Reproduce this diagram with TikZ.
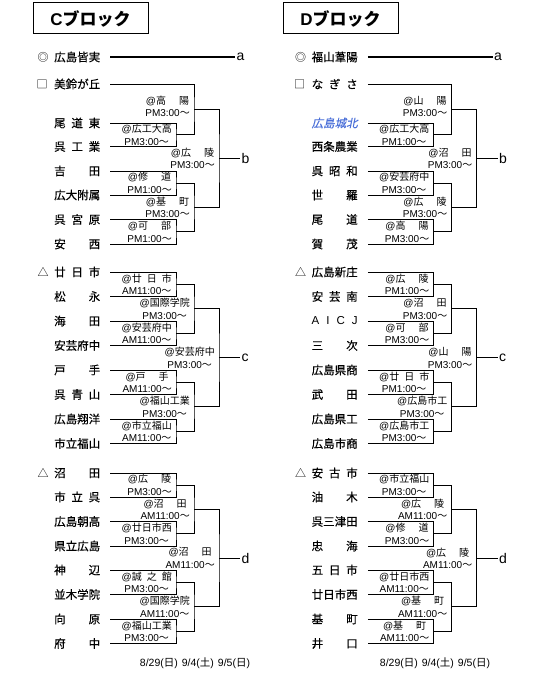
\documentclass[tikz,border=0pt]{standalone}
\usepackage{fontspec}
\setmainfont{Noto Sans CJK JP}
\newfontfamily\lat{Liberation Sans}
\newfontfamily\jpteam[FakeBold=0.4]{Noto Sans CJK JP}
\newfontfamily\jpsl[FakeSlant=0.2,FakeBold=0.3]{Noto Sans CJK JP}
\usepackage{tikz}
\definecolor{cityblue}{HTML}{4A6FD8}
\newcommand\tname[1]{\makebox[46pt][s]{#1}}
\newcommand\vname[2][40pt]{{\lat @}\makebox[#1][s]{#2}}
\newcommand\kickoff[1]{{\lat #1}〜}
\newcommand\dday[2]{{\lat #1(}#2{\lat )}}
\tikzset{
  team/.style={anchor=west,inner sep=0pt,font=\jpteam\fontsize{11.5}{12}\selectfont},
  seedmark/.style={inner sep=0pt,font=\fontsize{11}{12}\selectfont},
  venue/.style={anchor=east,align=center,inner sep=0pt,font=\fontsize{10}{12.5}\selectfont},
  br/.style={line width=0.9pt},
  seedline/.style={line width=2.6pt},
  lbl/.style={anchor=west,inner xsep=1.5pt,inner ysep=0pt,font=\lat\fontsize{14}{14}\selectfont},
  head/.style={draw,line width=1pt,minimum width=115pt,minimum height=31pt,inner sep=0pt,font=\bfseries\fontsize{17}{17}\selectfont},
  dates/.style={inner sep=0pt,font=\fontsize{10.5}{11}\selectfont}
}

\begin{document}
\begin{tikzpicture}[x=1pt,y=-1pt]
\useasboundingbox (0,0) rectangle (540,677);
% headers and dates
\node[head] (Chead) at (90.5,18.5) {{\lat C}ブロック};
\node[head] (Dhead) at (340.5,18.5) {{\lat D}ブロック};
\node[dates] (Cdate) at (195,663) {\dday{8/29}{日}\hspace{4pt}\dday{9/4}{土}\hspace{4pt}\dday{9/5}{日}};
\node[dates] (Ddate) at (435,663) {\dday{8/29}{日}\hspace{4pt}\dday{9/4}{土}\hspace{4pt}\dday{9/5}{日}};

% ---------- C block ----------
\node[seedmark] (Cma) at (43,57) {◎};
\node[team] (Ca) at (54,57) {\tname{広島皆実}};
\node[lbl] (Cla) at (235,57) {a};
\draw[seedline] ([xshift=10pt]Ca.east) -- (Cla.west);
% b
\node[seedmark] (Cms) at (42,84) {□};
\node[team] (Cs) at (54,84) {\tname{美鈴が丘}};
\node[team] (Cb1) at (54,123) {\tname{尾\hfill 道\hfill 東}};
\node[team] (Cb2) at (54,146.5) {\tname{呉\hfill 工\hfill 業}};
\node[team] (Cb3) at (54,171) {\tname{吉\hfill 田}};
\node[team] (Cb4) at (54,195) {\tname{広大附属}};
\node[team] (Cb5) at (54,219.5) {\tname{呉\hfill 宮\hfill 原}};
\node[team] (Cb6) at (54,244) {\tname{安\hfill 西}};
\coordinate (Cb12) at (176,134.75);
\coordinate (Cb34) at (176,183);
\coordinate (Cb56) at (176,231.75);
\coordinate (CbS) at (194,109.4);
\coordinate (Cb36) at (194,207.4);
\coordinate (Cbf) at (219,158.4);
\node[lbl] (Clb) at (240,158.4) {b};
\draw[br] ([xshift=10pt]Cb1.east) -| (Cb12) |- ([xshift=10pt]Cb2.east);
\draw[br] ([xshift=10pt]Cb3.east) -| (Cb34) |- ([xshift=10pt]Cb4.east);
\draw[br] ([xshift=10pt]Cb5.east) -| (Cb56) |- ([xshift=10pt]Cb6.east);
\draw[br] ([xshift=10pt]Cs.east) -| (CbS) |- (Cb12);
\draw[br] (Cb34) -| (Cb36) |- (Cb56);
\draw[br] (CbS) -| (Cbf) |- (Cb36);
\draw[br] (Cbf) -- (Clb.west);
\node[venue] (Cvb12) at ([xshift=-4pt]Cb12) {\vname{広工大高}\\\kickoff{PM3:00}};
\node[venue] (Cvb34) at ([xshift=-4pt]Cb34) {\vname[33pt]{修\hfill 道}\\\kickoff{PM1:00}};
\node[venue] (Cvb56) at ([xshift=-4pt]Cb56) {\vname[33pt]{可\hfill 部}\\\kickoff{PM1:00}};
\node[venue] (CvbS) at ([xshift=-4pt,yshift=3pt]CbS) {\vname[33pt]{高\hfill 陽}\\\kickoff{PM3:00}};
\node[venue] (Cvb36) at ([xshift=-4pt]Cb36) {\vname[33pt]{基\hfill 町}\\\kickoff{PM3:00}};
\node[venue] (Cvbf) at ([xshift=-4pt]Cbf) {\vname[33pt]{広\hfill 陵}\\\kickoff{PM3:00}};
% c
\node[seedmark] (Cmc) at (43,272) {△};
\node[team] (Cc1) at (54,272) {\tname{廿\hfill 日\hfill 市}};
\node[team] (Cc2) at (54,296.5) {\tname{松\hfill 永}};
\node[team] (Cc3) at (54,321) {\tname{海\hfill 田}};
\node[team] (Cc4) at (54,345.5) {\tname{安芸府中}};
\node[team] (Cc5) at (54,370) {\tname{戸\hfill 手}};
\node[team] (Cc6) at (54,394.5) {\tname{呉\hfill 青\hfill 山}};
\node[team] (Cc7) at (54,419) {\tname{広島翔洋}};
\node[team] (Cc8) at (54,443.5) {\tname{市立福山}};
\coordinate (Cc12) at (176,284.25);
\coordinate (Cc34) at (176,333.25);
\coordinate (Cc56) at (176,382.25);
\coordinate (Cc78) at (176,431.25);
\coordinate (Cc14) at (194,308.75);
\coordinate (Cc58) at (194,406.75);
\coordinate (Ccf) at (219,357.75);
\node[lbl] (Clc) at (240,357.75) {c};
\draw[br] ([xshift=10pt]Cc1.east) -| (Cc12) |- ([xshift=10pt]Cc2.east);
\draw[br] ([xshift=10pt]Cc3.east) -| (Cc34) |- ([xshift=10pt]Cc4.east);
\draw[br] ([xshift=10pt]Cc5.east) -| (Cc56) |- ([xshift=10pt]Cc6.east);
\draw[br] ([xshift=10pt]Cc7.east) -| (Cc78) |- ([xshift=10pt]Cc8.east);
\draw[br] (Cc12) -| (Cc14) |- (Cc34);
\draw[br] (Cc56) -| (Cc58) |- (Cc78);
\draw[br] (Cc14) -| (Ccf) |- (Cc58);
\draw[br] (Ccf) -- (Clc.west);
\node[venue] (Cvc12) at ([xshift=-4pt]Cc12) {\vname{廿\hfill 日\hfill 市}\\\kickoff{AM11:00}};
\node[venue] (Cvc34) at ([xshift=-4pt]Cc34) {\vname{安芸府中}\\\kickoff{AM11:00}};
\node[venue] (Cvc56) at ([xshift=-4pt]Cc56) {\vname[33pt]{戸\hfill 手}\\\kickoff{AM11:00}};
\node[venue] (Cvc78) at ([xshift=-4pt]Cc78) {\vname{市立福山}\\\kickoff{AM11:00}};
\node[venue] (Cvc14) at ([xshift=-4pt]Cc14) {\vname{国際学院}\\\kickoff{PM3:00}};
\node[venue] (Cvc58) at ([xshift=-4pt]Cc58) {\vname{福山工業}\\\kickoff{PM3:00}};
\node[venue] (Cvcf) at ([xshift=-4pt]Ccf) {\vname{安芸府中}\\\kickoff{PM3:00}};
% d
\node[seedmark] (Cmd) at (43,473) {△};
\node[team] (Cd1) at (54,473) {\tname{沼\hfill 田}};
\node[team] (Cd2) at (54,497) {\tname{市\hfill 立\hfill 呉}};
\node[team] (Cd3) at (54,521.5) {\tname{広島朝高}};
\node[team] (Cd4) at (54,546) {\tname{県立広島}};
\node[team] (Cd5) at (54,570) {\tname{神\hfill 辺}};
\node[team] (Cd6) at (54,594.5) {\tname{並木学院}};
\node[team] (Cd7) at (54,619) {\tname{向\hfill 原}};
\node[team] (Cd8) at (54,643.5) {\tname{府\hfill 中}};
\coordinate (Cd12) at (176,485);
\coordinate (Cd34) at (176,533.75);
\coordinate (Cd56) at (176,582.25);
\coordinate (Cd78) at (176,631.25);
\coordinate (Cd14) at (194,509.4);
\coordinate (Cd58) at (194,606.75);
\coordinate (Cdf) at (219,558.1);
\node[lbl] (Cld) at (240,558.1) {d};
\draw[br] ([xshift=10pt]Cd1.east) -| (Cd12) |- ([xshift=10pt]Cd2.east);
\draw[br] ([xshift=10pt]Cd3.east) -| (Cd34) |- ([xshift=10pt]Cd4.east);
\draw[br] ([xshift=10pt]Cd5.east) -| (Cd56) |- ([xshift=10pt]Cd6.east);
\draw[br] ([xshift=10pt]Cd7.east) -| (Cd78) |- ([xshift=10pt]Cd8.east);
\draw[br] (Cd12) -| (Cd14) |- (Cd34);
\draw[br] (Cd56) -| (Cd58) |- (Cd78);
\draw[br] (Cd14) -| (Cdf) |- (Cd58);
\draw[br] (Cdf) -- (Cld.west);
\node[venue] (Cvd12) at ([xshift=-4pt]Cd12) {\vname[33pt]{広\hfill 陵}\\\kickoff{PM3:00}};
\node[venue] (Cvd34) at ([xshift=-4pt]Cd34) {\vname{廿日市西}\\\kickoff{PM3:00}};
\node[venue] (Cvd56) at ([xshift=-4pt]Cd56) {\vname{誠\hfill 之\hfill 館}\\\kickoff{PM3:00}};
\node[venue] (Cvd78) at ([xshift=-4pt]Cd78) {\vname{福山工業}\\\kickoff{PM3:00}};
\node[venue] (Cvd14) at ([xshift=-4pt]Cd14) {\vname[33pt]{沼\hfill 田}\\\kickoff{AM11:00}};
\node[venue] (Cvd58) at ([xshift=-4pt]Cd58) {\vname{国際学院}\\\kickoff{AM11:00}};
\node[venue] (Cvdf) at ([xshift=-4pt]Cdf) {\vname[33pt]{沼\hfill 田}\\\kickoff{AM11:00}};

% ---------- D block ----------
\begin{scope}[xshift=257.5pt]
\node[seedmark] (Dma) at (43,57) {◎};
\node[team] (Da) at (54,57) {\tname{福山葦陽}};
\node[lbl] (Dla) at (235,57) {a};
\draw[seedline] ([xshift=10pt]Da.east) -- (Dla.west);
% b
\node[seedmark] (Dms) at (42,84) {□};
\node[team] (Ds) at (54,84) {\tname{な\hfill ぎ\hfill さ}};
\node[team] (Db1) at (54,123) {\tname{\jpsl\color{cityblue}広島城北}};
\node[team] (Db2) at (54,146.5) {\tname{西条農業}};
\node[team] (Db3) at (54,171) {\tname{呉\hfill 昭\hfill 和}};
\node[team] (Db4) at (54,195) {\tname{世\hfill 羅}};
\node[team] (Db5) at (54,219.5) {\tname{尾\hfill 道}};
\node[team] (Db6) at (54,244) {\tname{賀\hfill 茂}};
\coordinate (Db12) at (176,134.75);
\coordinate (Db34) at (176,183);
\coordinate (Db56) at (176,231.75);
\coordinate (DbS) at (194,109.4);
\coordinate (Db36) at (194,207.4);
\coordinate (Dbf) at (219,158.4);
\node[lbl] (Dlb) at (240,158.4) {b};
\draw[br] ([xshift=10pt]Db1.east) -| (Db12) |- ([xshift=10pt]Db2.east);
\draw[br] ([xshift=10pt]Db3.east) -| (Db34) |- ([xshift=10pt]Db4.east);
\draw[br] ([xshift=10pt]Db5.east) -| (Db56) |- ([xshift=10pt]Db6.east);
\draw[br] ([xshift=10pt]Ds.east) -| (DbS) |- (Db12);
\draw[br] (Db34) -| (Db36) |- (Db56);
\draw[br] (DbS) -| (Dbf) |- (Db36);
\draw[br] (Dbf) -- (Dlb.west);
\node[venue] (Dvb12) at ([xshift=-4pt]Db12) {\vname{広工大高}\\\kickoff{PM1:00}};
\node[venue] (Dvb34) at ([xshift=-4pt]Db34) {\vname{安芸府中}\\\kickoff{PM3:00}};
\node[venue] (Dvb56) at ([xshift=-4pt]Db56) {\vname[33pt]{高\hfill 陽}\\\kickoff{PM3:00}};
\node[venue] (DvbS) at ([xshift=-4pt,yshift=3pt]DbS) {\vname[33pt]{山\hfill 陽}\\\kickoff{PM3:00}};
\node[venue] (Dvb36) at ([xshift=-4pt]Db36) {\vname[33pt]{広\hfill 陵}\\\kickoff{PM3:00}};
\node[venue] (Dvbf) at ([xshift=-4pt]Dbf) {\vname[33pt]{沼\hfill 田}\\\kickoff{PM3:00}};
% c
\node[seedmark] (Dmc) at (43,272) {△};
\node[team] (Dc1) at (54,272) {\tname{広島新庄}};
\node[team] (Dc2) at (54,296.5) {\tname{安\hfill 芸\hfill 南}};
\node[team] (Dc3) at (54,321) {\tname{\lat A\hfill I\hfill C\hfill J}};
\node[team] (Dc4) at (54,345.5) {\tname{三\hfill 次}};
\node[team] (Dc5) at (54,370) {\tname{広島県商}};
\node[team] (Dc6) at (54,394.5) {\tname{武\hfill 田}};
\node[team] (Dc7) at (54,419) {\tname{広島県工}};
\node[team] (Dc8) at (54,443.5) {\tname{広島市商}};
\coordinate (Dc12) at (176,284.25);
\coordinate (Dc34) at (176,333.25);
\coordinate (Dc56) at (176,382.25);
\coordinate (Dc78) at (176,431.25);
\coordinate (Dc14) at (194,308.75);
\coordinate (Dc58) at (194,406.75);
\coordinate (Dcf) at (219,357.75);
\node[lbl] (Dlc) at (240,357.75) {c};
\draw[br] ([xshift=10pt]Dc1.east) -| (Dc12) |- ([xshift=10pt]Dc2.east);
\draw[br] ([xshift=10pt]Dc3.east) -| (Dc34) |- ([xshift=10pt]Dc4.east);
\draw[br] ([xshift=10pt]Dc5.east) -| (Dc56) |- ([xshift=10pt]Dc6.east);
\draw[br] ([xshift=10pt]Dc7.east) -| (Dc78) |- ([xshift=10pt]Dc8.east);
\draw[br] (Dc12) -| (Dc14) |- (Dc34);
\draw[br] (Dc56) -| (Dc58) |- (Dc78);
\draw[br] (Dc14) -| (Dcf) |- (Dc58);
\draw[br] (Dcf) -- (Dlc.west);
\node[venue] (Dvc12) at ([xshift=-4pt]Dc12) {\vname[33pt]{広\hfill 陵}\\\kickoff{PM1:00}};
\node[venue] (Dvc34) at ([xshift=-4pt]Dc34) {\vname[33pt]{可\hfill 部}\\\kickoff{PM3:00}};
\node[venue] (Dvc56) at ([xshift=-4pt]Dc56) {\vname{廿\hfill 日\hfill 市}\\\kickoff{PM1:00}};
\node[venue] (Dvc78) at ([xshift=-4pt]Dc78) {\vname{広島市工}\\\kickoff{PM3:00}};
\node[venue] (Dvc14) at ([xshift=-4pt]Dc14) {\vname[33pt]{沼\hfill 田}\\\kickoff{PM3:00}};
\node[venue] (Dvc58) at ([xshift=-4pt]Dc58) {\vname{広島市工}\\\kickoff{PM3:00}};
\node[venue] (Dvcf) at ([xshift=-4pt]Dcf) {\vname[33pt]{山\hfill 陽}\\\kickoff{PM3:00}};
% d
\node[seedmark] (Dmd) at (43,473) {△};
\node[team] (Dd1) at (54,473) {\tname{安\hfill 古\hfill 市}};
\node[team] (Dd2) at (54,497) {\tname{油\hfill 木}};
\node[team] (Dd3) at (54,521.5) {\tname{呉三津田}};
\node[team] (Dd4) at (54,546) {\tname{忠\hfill 海}};
\node[team] (Dd5) at (54,570) {\tname{五\hfill 日\hfill 市}};
\node[team] (Dd6) at (54,594.5) {\tname{廿日市西}};
\node[team] (Dd7) at (54,619) {\tname{基\hfill 町}};
\node[team] (Dd8) at (54,643.5) {\tname{井\hfill 口}};
\coordinate (Dd12) at (176,485);
\coordinate (Dd34) at (176,533.75);
\coordinate (Dd56) at (176,582.25);
\coordinate (Dd78) at (176,631.25);
\coordinate (Dd14) at (194,509.4);
\coordinate (Dd58) at (194,606.75);
\coordinate (Ddf) at (219,558.1);
\node[lbl] (Dld) at (240,558.1) {d};
\draw[br] ([xshift=10pt]Dd1.east) -| (Dd12) |- ([xshift=10pt]Dd2.east);
\draw[br] ([xshift=10pt]Dd3.east) -| (Dd34) |- ([xshift=10pt]Dd4.east);
\draw[br] ([xshift=10pt]Dd5.east) -| (Dd56) |- ([xshift=10pt]Dd6.east);
\draw[br] ([xshift=10pt]Dd7.east) -| (Dd78) |- ([xshift=10pt]Dd8.east);
\draw[br] (Dd12) -| (Dd14) |- (Dd34);
\draw[br] (Dd56) -| (Dd58) |- (Dd78);
\draw[br] (Dd14) -| (Ddf) |- (Dd58);
\draw[br] (Ddf) -- (Dld.west);
\node[venue] (Dvd12) at ([xshift=-4pt]Dd12) {\vname{市立福山}\\\kickoff{PM3:00}};
\node[venue] (Dvd34) at ([xshift=-4pt]Dd34) {\vname[33pt]{修\hfill 道}\\\kickoff{PM3:00}};
\node[venue] (Dvd56) at ([xshift=-4pt]Dd56) {\vname{廿日市西}\\\kickoff{AM11:00}};
\node[venue] (Dvd78) at ([xshift=-4pt]Dd78) {\vname[33pt]{基\hfill 町}\\\kickoff{AM11:00}};
\node[venue] (Dvd14) at ([xshift=-4pt]Dd14) {\vname[33pt]{広\hfill 陵}\\\kickoff{AM11:00}};
\node[venue] (Dvd58) at ([xshift=-4pt]Dd58) {\vname[33pt]{基\hfill 町}\\\kickoff{AM11:00}};
\node[venue] (Dvdf) at ([xshift=-4pt]Ddf) {\vname[33pt]{広\hfill 陵}\\\kickoff{AM11:00}};
\end{scope}
\end{tikzpicture}
\end{document}
